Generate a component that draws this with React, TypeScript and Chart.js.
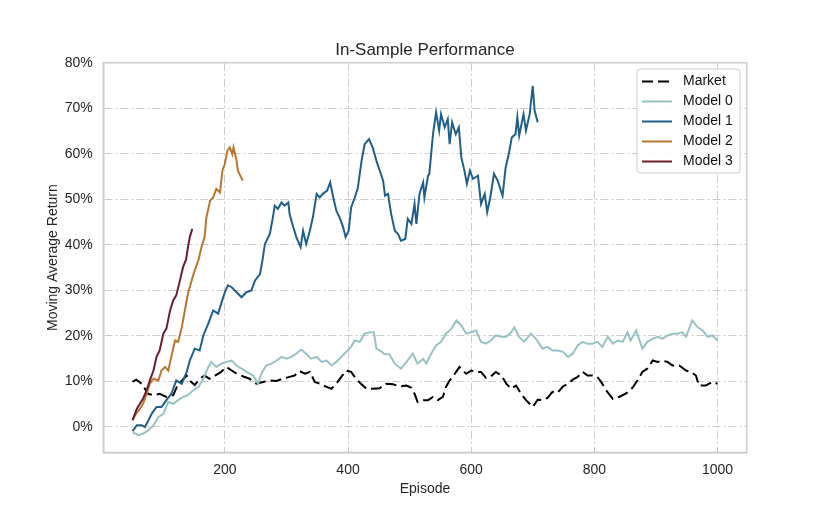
import React, { useEffect, useRef } from "react";
import { Chart, registerables } from "chart.js";

Chart.register(...registerables);

// ---- Data ----
const marketEp = [50, 56, 65, 75, 84, 94, 105, 116, 122, 130, 138, 143, 151, 159, 167, 175, 184, 194, 202, 211, 219, 230, 240, 251, 262, 273, 284, 294, 305, 313, 321, 330, 338, 346, 354, 365, 373, 381, 389, 397, 405, 413, 421, 430, 440, 451, 462, 473, 484, 495, 503, 508, 513, 522, 530, 538, 546, 554, 559, 565, 573, 581, 586, 592, 600, 608, 616, 624, 632, 640, 649, 657, 665, 673, 681, 689, 700, 708, 716, 724, 732, 740, 749, 757, 765, 773, 781, 789, 797, 805, 811, 819, 830, 840, 851, 862, 870, 878, 886, 895, 903, 911, 919, 927, 938, 949, 957, 965, 970, 981, 992, 1000];
const marketVal = [9.9, 10.4, 9.5, 7.3, 7.0, 7.3, 6.6, 7.0, 8.8, 10.2, 11.3, 10.2, 9.2, 10.6, 11.3, 10.6, 11.3, 12.1, 13.2, 12.4, 11.7, 11.1, 10.6, 9.5, 9.9, 10.2, 10.1, 10.6, 11.0, 11.3, 12.3, 11.7, 12.1, 9.9, 9.5, 8.8, 8.4, 9.5, 11.0, 12.4, 12.1, 10.6, 9.5, 8.4, 8.4, 8.5, 9.5, 9.4, 8.9, 9.1, 8.6, 7.3, 5.5, 5.9, 5.9, 6.6, 5.9, 6.6, 8.8, 10.2, 11.6, 13.2, 12.4, 11.7, 12.4, 12.1, 12.1, 10.8, 11.1, 12.1, 11.3, 9.5, 8.4, 9.1, 7.3, 5.9, 4.4, 6.0, 5.9, 6.4, 7.7, 7.5, 8.9, 9.5, 10.4, 11.0, 12.1, 11.3, 11.3, 11.0, 9.9, 8.1, 6.2, 6.6, 7.3, 8.6, 10.2, 12.1, 12.8, 14.6, 14.3, 14.5, 14.3, 13.5, 13.5, 12.4, 12.1, 11.3, 9.1, 9.1, 9.9, 9.5];

const model0Ep = [50, 59, 67, 76, 84, 92, 100, 108, 116, 124, 132, 140, 149, 157, 165, 173, 178, 186, 194, 203, 211, 219, 227, 235, 246, 254, 259, 267, 276, 284, 292, 300, 308, 316, 324, 332, 340, 349, 357, 365, 373, 381, 389, 397, 405, 411, 419, 427, 435, 442, 446, 454, 459, 467, 476, 486, 495, 505, 513, 522, 527, 535, 543, 551, 559, 568, 576, 584, 592, 600, 608, 616, 624, 632, 640, 649, 657, 665, 670, 678, 686, 697, 705, 716, 724, 732, 740, 749, 757, 765, 773, 781, 789, 797, 805, 813, 822, 830, 838, 846, 854, 859, 868, 878, 886, 895, 903, 911, 919, 927, 935, 943, 949, 959, 968, 976, 984, 992, 1000];
const model0Val = [-1.1, -1.8, -1.5, -0.7, 0.4, 2.2, 2.9, 5.5, 5.1, 5.9, 6.6, 7.0, 8.1, 8.8, 10.6, 13.2, 14.3, 13.2, 13.9, 14.3, 14.6, 13.5, 12.8, 12.1, 11.3, 9.5, 11.7, 13.5, 13.9, 14.6, 15.4, 15.0, 15.4, 16.1, 17.0, 16.1, 15.0, 15.4, 14.3, 14.6, 13.5, 14.3, 15.4, 16.5, 17.6, 19.0, 18.7, 20.5, 20.8, 20.8, 17.2, 16.6, 16.0, 16.0, 13.9, 12.8, 14.3, 16.1, 13.9, 15.0, 13.9, 16.1, 17.9, 18.7, 20.5, 21.6, 23.4, 22.3, 20.5, 20.8, 21.2, 18.7, 18.3, 19.0, 20.1, 19.8, 19.8, 20.8, 21.9, 19.8, 18.7, 20.5, 19.4, 17.2, 17.6, 16.8, 16.8, 16.5, 15.4, 16.1, 17.9, 18.7, 18.3, 18.3, 18.7, 17.6, 19.8, 18.3, 19.0, 18.7, 20.8, 19.0, 21.2, 17.2, 18.7, 19.4, 19.8, 19.4, 20.1, 20.5, 20.5, 20.8, 19.8, 23.4, 21.9, 21.2, 19.8, 20.1, 19.0];

const model1Ep = [50, 57, 65, 70, 76, 81, 89, 97, 105, 113, 121, 130, 138, 143, 151, 159, 165, 173, 181, 189, 194, 200, 205, 211, 219, 227, 235, 243, 249, 257, 261, 265, 273, 278, 281, 286, 292, 297, 303, 305, 311, 316, 323, 327, 332, 338, 343, 349, 354, 359, 366, 371, 376, 381, 386, 392, 396, 401, 405, 411, 416, 422, 427, 434, 440, 446, 451, 457, 460, 465, 470, 476, 481, 486, 493, 497, 503, 508, 511, 516, 522, 524, 530, 532, 538, 543, 548, 551, 557, 562, 565, 569, 575, 580, 584, 589, 593, 598, 603, 611, 616, 622, 626, 631, 637, 643, 651, 656, 661, 666, 672, 675, 678, 685, 689, 695, 700, 703, 708];
const model1Val = [-0.9, 0.4, 0.4, 0.0, 1.5, 2.9, 4.4, 4.4, 5.9, 7.3, 10.2, 9.5, 12.1, 14.6, 17.2, 16.8, 20.1, 22.7, 25.6, 24.9, 27.1, 29.6, 31.1, 30.7, 29.6, 28.5, 29.6, 30.0, 32.2, 33.6, 36.6, 40.2, 42.4, 46.1, 48.6, 47.9, 49.3, 48.6, 49.3, 46.8, 43.9, 41.7, 39.5, 43.1, 40.2, 43.1, 46.1, 51.2, 50.4, 51.2, 51.9, 53.7, 50.4, 47.5, 46.1, 43.9, 41.7, 43.1, 48.2, 50.4, 52.6, 58.5, 62.1, 63.2, 61.4, 58.5, 56.5, 54.1, 50.8, 51.2, 46.8, 43.1, 42.4, 40.9, 41.3, 45.7, 44.6, 49.0, 44.6, 51.2, 53.7, 50.4, 55.2, 55.6, 64.3, 69.1, 65.1, 68.7, 65.8, 67.6, 62.1, 66.9, 64.3, 65.8, 59.2, 56.3, 53.4, 56.3, 54.5, 55.2, 49.0, 51.2, 47.2, 50.4, 55.6, 54.1, 50.8, 57.0, 59.9, 63.6, 64.3, 68.0, 64.0, 68.7, 65.1, 68.7, 74.9, 69.5, 66.9];

const model2Ep = [50, 56, 62, 67, 73, 78, 84, 92, 97, 103, 108, 113, 119, 124, 130, 135, 140, 146, 151, 157, 162, 167, 170, 176, 181, 186, 192, 196, 200, 204, 208, 212, 214, 219, 221, 229];
const model2Val = [1.5, 3.0, 4.0, 5.1, 7.3, 9.5, 10.6, 10.2, 12.4, 13.2, 12.4, 15.4, 19.0, 18.7, 21.9, 25.6, 29.3, 32.2, 34.4, 36.6, 39.5, 41.7, 46.1, 49.7, 50.4, 52.3, 51.5, 56.3, 57.8, 60.7, 61.4, 59.9, 61.4, 58.5, 56.3, 54.1];

const model3Ep = [50, 57, 62, 67, 73, 78, 84, 89, 94, 100, 105, 111, 116, 121, 127, 132, 137, 140, 143, 147];
const model3Val = [1.5, 4.0, 5.1, 6.2, 8.1, 10.2, 12.4, 15.4, 16.8, 20.5, 21.6, 25.6, 27.8, 28.9, 32.2, 35.1, 36.8, 39.5, 41.7, 43.5];

const seriesNames = ["Market", "Model 0", "Model 1", "Model 2", "Model 3"];
const xTicks = [200, 400, 600, 800, 1000];
const yTicks = [0, 10, 20, 30, 40, 50, 60, 70, 80];

const COLORS = ["#000000", "#99c2c6", "#215f8b", "#b8762f", "#6e1c2e"];
const FONT = "'Liberation Sans', Arimo, Arial, sans-serif";
const TEXT = "#262626";

function pts(xs: number[], ys: number[]) {
  return xs.map((x, i) => ({ x, y: ys[i] }));
}

export default function App() {
  const ref = useRef<HTMLCanvasElement>(null);

  useEffect(() => {
    if (!ref.current) return;

    const decor = {
      id: "decor",
      afterDraw(chart: any) {
        const ctx = chart.ctx as CanvasRenderingContext2D;
        const a = chart.chartArea;
        ctx.save();
        // frame
        ctx.strokeStyle = "#cccccc";
        ctx.lineWidth = 1.5;
        ctx.setLineDash([]);
        ctx.strokeRect(a.left, a.top, a.right - a.left, a.bottom - a.top);
        // title
        ctx.fillStyle = TEXT;
        ctx.font = `17px ${FONT}`;
        ctx.textAlign = "center";
        ctx.textBaseline = "alphabetic";
        ctx.fillText("In-Sample Performance", (a.left + a.right) / 2, 55);
        // legend
        const bx = 637, by = 69, bw = 103, bh = 104, r = 3;
        ctx.beginPath();
        ctx.moveTo(bx + r, by);
        ctx.lineTo(bx + bw - r, by);
        ctx.quadraticCurveTo(bx + bw, by, bx + bw, by + r);
        ctx.lineTo(bx + bw, by + bh - r);
        ctx.quadraticCurveTo(bx + bw, by + bh, bx + bw - r, by + bh);
        ctx.lineTo(bx + r, by + bh);
        ctx.quadraticCurveTo(bx, by + bh, bx, by + bh - r);
        ctx.lineTo(bx, by + r);
        ctx.quadraticCurveTo(bx, by, bx + r, by);
        ctx.closePath();
        ctx.fillStyle = "rgba(255,255,255,0.85)";
        ctx.fill();
        ctx.strokeStyle = "#cccccc";
        ctx.lineWidth = 1;
        ctx.stroke();
        ctx.font = `14px ${FONT}`;
        ctx.textAlign = "left";
        ctx.textBaseline = "middle";
        seriesNames.forEach((name, i) => {
          const y = 81.5 + i * 20;
          ctx.beginPath();
          ctx.strokeStyle = COLORS[i];
          ctx.lineWidth = 2;
          ctx.setLineDash(i === 0 ? [11, 5] : []);
          ctx.moveTo(642, y);
          ctx.lineTo(672, y);
          ctx.stroke();
          ctx.setLineDash([]);
          ctx.fillStyle = "#111111";
          ctx.fillText(name, 683, y);
        });
        ctx.restore();
      },
    };

    const all = [
      pts(marketEp, marketVal),
      pts(model0Ep, model0Val),
      pts(model1Ep, model1Val),
      pts(model2Ep, model2Val),
      pts(model3Ep, model3Val),
    ];

    const chart = new Chart(ref.current, {
      type: "line",
      data: {
        datasets: all.map((d, i) => ({
          label: seriesNames[i],
          data: d,
          borderColor: COLORS[i],
          backgroundColor: COLORS[i],
          borderWidth: 2,
          borderDash: i === 0 ? [11, 5] : [],
          pointRadius: 0,
          tension: 0,
          fill: false,
          order: 5 - i,
        })),
      },
      options: {
        responsive: false,
        animation: false,
        events: [],
        layout: { padding: { left: 0, right: 83.3, top: 62.7, bottom: 0 } },
        plugins: {
          legend: { display: false },
          title: { display: false },
          tooltip: { enabled: false },
        },
        scales: {
          x: {
            type: "linear",
            min: 2.5,
            max: 1047.5,
            afterBuildTicks: (s: any) => {
              s.ticks = xTicks.map((v) => ({ value: v }));
            },
            afterFit: (s: any) => {
              s.height = 66.5;
            },
            grid: { color: "#cccccc", lineWidth: 1, drawTicks: false },
            border: { display: true, color: "#cccccc", width: 1.5, dash: [8, 3, 2, 3] },
            ticks: {
              color: TEXT,
              font: { family: FONT, size: 14 },
              padding: 9,
              maxRotation: 0,
              autoSkip: false,
              callback: (v: any) => String(v),
            },
            title: {
              display: true,
              text: "Episode",
              color: TEXT,
              font: { family: FONT, size: 14 },
              padding: { top: 0, bottom: 21.7 },
            },
          },
          y: {
            type: "linear",
            min: -5.6,
            max: 80,
            afterBuildTicks: (s: any) => {
              s.ticks = yTicks.map((v) => ({ value: v }));
            },
            afterFit: (s: any) => {
              s.width = 103.3;
            },
            grid: { color: "#cccccc", lineWidth: 1, drawTicks: false },
            border: { display: true, color: "#cccccc", width: 1.5, dash: [8, 3, 2, 3] },
            ticks: {
              color: TEXT,
              font: { family: FONT, size: 14 },
              padding: 10.6,
              autoSkip: false,
              callback: (v: any) => `${v}%`,
            },
            title: {
              display: true,
              text: "Moving Average Return",
              color: TEXT,
              font: { family: FONT, size: 14 },
              padding: { top: 44.7, bottom: 0 },
            },
          },
        },
      },
      plugins: [decor],
    });

    return () => chart.destroy();
  }, []);

  return (
    <div style={{ position: "fixed", left: 0, top: 0, width: 830, height: 519, background: "#ffffff" }}>
      <canvas ref={ref} width={830} height={519} style={{ width: 830, height: 519, display: "block" }} />
    </div>
  );
}
